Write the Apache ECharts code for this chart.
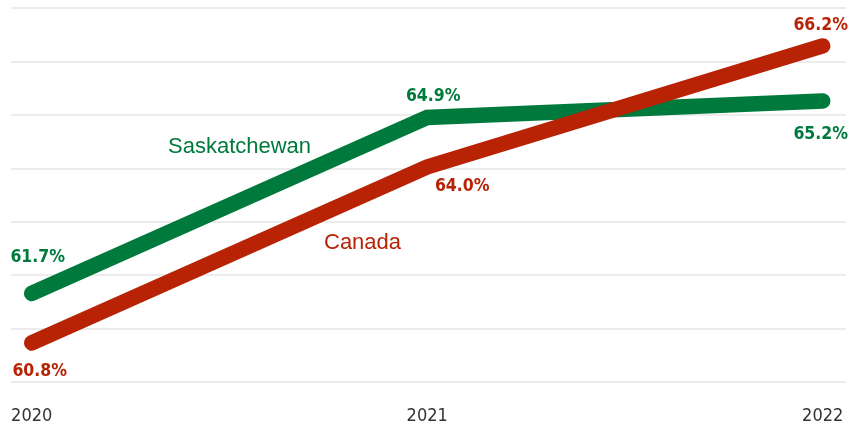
<!DOCTYPE html>
<html>
<head>
<meta charset="utf-8">
<script src="https://cdn.jsdelivr.net/npm/echarts@6/dist/echarts.min.js"></script>
<style>
  html, body { margin: 0; padding: 0; background: #fff; }
  #chart { width: 858px; height: 426px; }
</style>
</head>
<body>
<div id="chart"></div>
<script>
// Participation rate, Saskatchewan vs. Canada
const years = [2020, 2021, 2022];
const saskatchewan = [61.7, 64.9, 65.2];
const canada = [60.8, 64.0, 66.2];
const yearLabels = ['2020', '2021', '2022'];

const GREEN = '#007a3c';
const RED = '#b82306';
const NUM_FONT = '"DejaVu Sans Condensed", "Liberation Sans Narrow", sans-serif';
const TEXT_FONT = '"Liberation Sans", Arial, sans-serif';

const chart = echarts.init(document.getElementById('chart'));

function pts(vals) {
  return years.map((y, i) => [y, vals[i]]);
}

// value-label offsets per point: [dx, dy]
const saskOffsets = [[6, -36], [6, -21], [-2, 34]];
const canOffsets = [[8, 29], [35, 20], [-2, -20]];

function labelled(vals, offsets, color) {
  return pts(vals).map((p, i) => ({
    value: p,
    label: {
      show: true,
      position: 'inside',
      offset: offsets[i],
      formatter: (d) => d.value[1].toFixed(1) + '%',
      color: color,
      fontFamily: NUM_FONT,
      fontWeight: 'bold',
      fontSize: 17.5
    }
  }));
}

function lineSeries(name, vals, offsets, color, z) {
  return {
    name: name,
    type: 'line',
    yAxisIndex: 0,
    data: labelled(vals, offsets, color),
    symbol: 'circle',
    symbolSize: 1,
    showSymbol: true,
    itemStyle: { color: color },
    lineStyle: { color: color, width: 15.5, cap: 'round', join: 'miter' },
    z: z
  };
}

chart.setOption({
  animation: false,
  grid: { left: 11, right: 12, top: 8, bottom: 44, containLabel: false },
  xAxis: {
    type: 'value',
    min: 2019.9477,
    max: 2022.0589,
    axisLine: { show: false },
    axisTick: { show: false },
    splitLine: { show: false },
    axisLabel: {
      show: true,
      customValues: years,
      formatter: (v) => yearLabels[years.indexOf(Math.round(v))] || '',
      color: '#333',
      fontFamily: NUM_FONT,
      fontSize: 18,
      margin: 25
    }
  },
  yAxis: [
    {
      type: 'value',
      min: 60.09,
      max: 66.89,
      show: false,
      splitLine: { show: false }
    },
    {
      // evenly spaced background rules
      type: 'value',
      min: 0,
      max: 7,
      interval: 1,
      axisLine: { show: false },
      axisTick: { show: false },
      axisLabel: { show: false },
      splitLine: { show: true, lineStyle: { color: '#e6e6e6', width: 1.5 } }
    }
  ],
  series: [
    lineSeries('Saskatchewan', saskatchewan, saskOffsets, GREEN, 2),
    lineSeries('Canada', canada, canOffsets, RED, 3)
  ],
  graphic: [
    {
      type: 'text',
      left: 168,
      top: 136,
      style: { text: 'Saskatchewan', fill: GREEN, font: '22px ' + TEXT_FONT }
    },
    {
      type: 'text',
      left: 324,
      top: 232,
      style: { text: 'Canada', fill: RED, font: '22px ' + TEXT_FONT }
    }
  ]
});
</script>
</body>
</html>
